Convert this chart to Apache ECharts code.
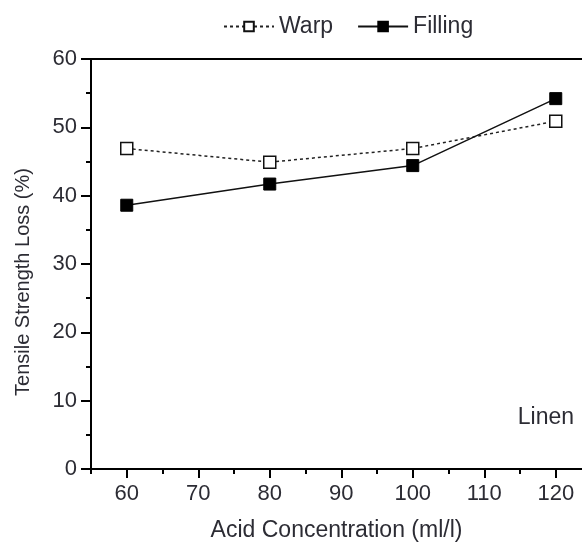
<!DOCTYPE html>
<html>
<head>
<meta charset="utf-8">
<script src="https://cdn.jsdelivr.net/npm/echarts@6/dist/echarts.min.js"></script>
<style>
  html, body { margin: 0; padding: 0; background: #fff; }
  #chart { width: 582px; height: 543px; }
</style>
</head>
<body>
<div id="chart"></div>
<script>
const concentrations = [60, 80, 100, 120]
const warp = [46.9, 44.9, 46.9, 50.9]
const filling = [38.6, 41.7, 44.4, 54.2]
const majorTicks = [60, 70, 80, 90, 100, 110, 120]
const minorTicksX = [55, 65, 75, 85, 95, 105, 115]

const ink = '#2c2c34'
const font = 'Liberation Sans, Arial, sans-serif'

const chart = echarts.init(document.getElementById('chart'))
const pairs = (ys) => concentrations.map((x, i) => [x, ys[i]])

// the reference is cropped on the right, so the axis ends just past 120
const xMin = 55
const xMax = 123.67

chart.setOption({
  animation: false,
  textStyle: { fontFamily: font, color: ink },
  legend: {
    top: 15, left: 223, padding: 0,
    itemWidth: 50, itemHeight: 12, itemGap: 24,
    textStyle: { fontSize: 23, color: ink, fontFamily: font },
    data: ['Warp', 'Filling']
  },
  grid: { left: 91, right: 0, top: 59, bottom: 74, outerBoundsMode: 'none' },
  xAxis: [{
    type: 'value', min: xMin, max: xMax,
    name: 'Acid Concentration (ml/l)', nameLocation: 'middle', nameGap: 50,
    nameTextStyle: { fontSize: 23, color: ink },
    axisLine: { lineStyle: { color: '#000', width: 2 } },
    axisTick: { length: 9, lineStyle: { color: '#000', width: 2 }, customValues: majorTicks },
    axisLabel: { fontSize: 22, color: ink, margin: 14, customValues: majorTicks },
    splitLine: { show: false }
  }, {
    type: 'value', min: xMin, max: xMax, position: 'bottom',
    axisLine: { show: false },
    axisTick: { length: 5, lineStyle: { color: '#000', width: 2 }, customValues: minorTicksX },
    axisLabel: { show: false },
    splitLine: { show: false }
  }, {
    type: 'value', min: xMin, max: xMax, position: 'top',
    axisLine: { show: true, lineStyle: { color: '#000', width: 2 } },
    axisTick: { show: false },
    axisLabel: { show: false },
    splitLine: { show: false }
  }],
  yAxis: {
    type: 'value', min: 0, max: 60, interval: 10,
    name: 'Tensile Strength Loss (%)', nameLocation: 'middle', nameGap: 58,
    nameTextStyle: { fontSize: 20, color: ink, padding: [0, 36, 0, 0] },
    axisLine: { show: true, lineStyle: { color: '#000', width: 2 } },
    axisTick: { show: true, length: 10, lineStyle: { color: '#000', width: 2 } },
    minorTick: { show: true, splitNumber: 2, length: 5, lineStyle: { color: '#000', width: 2 } },
    axisLabel: { fontSize: 22, color: ink, margin: 14 },
    splitLine: { show: false }
  },
  series: [{
    name: 'Warp', type: 'line', data: pairs(warp),
    symbol: 'rect', symbolSize: 12,
    itemStyle: { color: '#fff', borderColor: '#111', borderWidth: 1.5 },
    lineStyle: { color: '#222', width: 1.5, type: [3, 3] }
  }, {
    name: 'Filling', type: 'line', data: pairs(filling),
    symbol: 'rect', symbolSize: 12,
    itemStyle: { color: '#000', borderColor: '#000', borderWidth: 1 },
    lineStyle: { color: '#111', width: 1.5 }
  }],
  graphic: [{
    type: 'text', right: 8, top: 406,
    style: { text: 'Linen', fontSize: 23, fill: ink, fontFamily: font }
  }]
})
</script>
</body>
</html>
